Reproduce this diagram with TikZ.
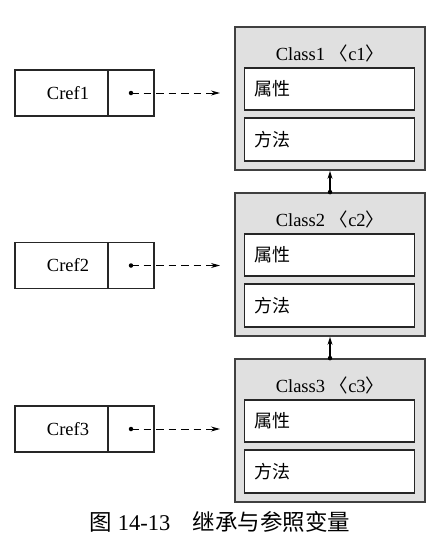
\documentclass[tikz,border=0pt]{standalone}
\usepackage{fontspec}
\setmainfont{Liberation Serif}
\newfontfamily\cjk{Noto Sans CJK SC}
\usetikzlibrary{arrows.meta}
\tikzset{
  outerbox/.style={draw=black!75, line width=1.8pt, fill=black!12, minimum width=190pt, minimum height=143pt, inner sep=0pt},
  innerbox/.style={draw=black!85, line width=1.8pt, fill=white, minimum width=170pt, minimum height=42pt, inner sep=0pt},
  cellbox/.style={draw=black!85, line width=1.2pt, fill=white, minimum height=46pt, inner sep=0pt},
  reflink/.style={dash pattern=on 7.5pt off 5pt, line width=1pt, -{Stealth[length=9pt,width=5pt]}},
  inherit/.style={line width=1.2pt, -{Stealth[length=8pt,width=5pt]}},
  dotmark/.style={circle, fill=black, inner sep=0pt, minimum size=4.5pt},
  lbl/.style={font=\fontsize{18.5}{20}\selectfont, inner sep=0pt},
  clbl/.style={font=\fontsize{18}{20}\selectfont\cjk, inner sep=0pt, anchor=west},
}
\begin{document}
\begin{tikzpicture}[x=1pt,y=-1pt]
\useasboundingbox (0,0) rectangle (446,544);
\fill[white] (0,0) rectangle (446,544);

% Class boxes
\foreach \i/\t in {1/27,2/193,3/359}{
  \node[outerbox] (cls\i) at (330,\t+71.5) {};
  \node[lbl] (title\i) at (330,\t+26) {Class\i\ {\cjk 〈}c\i{\cjk 〉}};
  \node[innerbox] (attr\i) at (329.5,\t+62) {};
  \node[clbl] (attrt\i) at (254,\t+62) {属性};
  \node[innerbox, minimum height=43pt] (meth\i) at (329.5,\t+112.5) {};
  \node[clbl] (metht\i) at (254,\t+112.5) {方法};
}

% inheritance arrows
\node[dotmark] (d2) at (cls2.north) {};
\node[dotmark] (d3) at (cls3.north) {};
\draw[inherit] (d2.center) -- (cls1.south);
\draw[inherit] (d3.center) -- (cls2.south);

% reference boxes
\foreach \i/\y in {1/93,2/265.5,3/429}{
  \node[cellbox, minimum width=93pt] (refl\i) at (61.5,\y) {};
  \node[lbl] (reft\i) at (68,\y) {Cref\i};
  \node[cellbox, minimum width=46pt] (refr\i) at (131,\y) {};
  \node[dotmark] (rd\i) at (refr\i.center) {};
  \coordinate (tip\i) at (220,\y);
  \draw[reflink] (rd\i.center) -- (tip\i);
}

% caption
\node[font=\fontsize{22.5}{24}\selectfont, inner sep=0pt] (cap) at (220,522) {{\cjk 图} 14-13\hspace{1em}{\cjk 继承与参照变量}};
\end{tikzpicture}
\end{document}
